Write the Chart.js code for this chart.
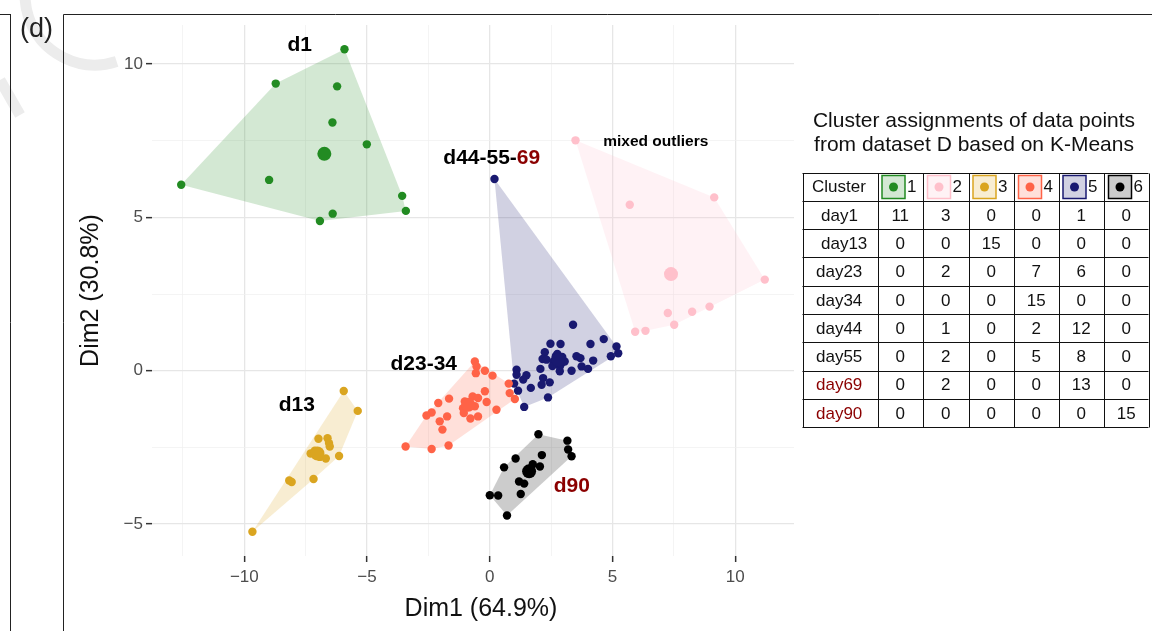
<!DOCTYPE html>
<html>
<head>
<meta charset="utf-8">
<script src="https://cdn.jsdelivr.net/npm/chart.js@4.4.1/dist/chart.umd.min.js"></script>
<style>
  html, body { margin: 0; padding: 0; background: #ffffff; overflow: hidden; }
  #wrap { position: relative; width: 1152px; height: 631px; }
</style>
</head>
<body>
<div id="wrap"><canvas id="pca" width="1152" height="631"></canvas></div>
<script>
// PCA scores (Dim1, Dim2) of the samples, grouped by K-Means cluster
const cluster1 = [[-12.57,6.06],[-8.72,9.36],[-5.92,10.48],[-6.22,9.27],[-6.41,8.09],[-5.01,7.38],
  [-8.99,6.22],[-3.57,5.70],[-3.42,5.21],[-6.40,5.12],[-6.92,4.88]];
const cluster2 = [[3.49,7.51],[5.70,5.41],[9.14,5.65],[11.20,2.97],[8.95,2.09],[8.24,1.92],
  [7.25,1.88],[7.51,1.50],[6.34,1.30],[5.92,1.27]];
const cluster3 = [[-5.95,-0.66],[-5.38,-1.31],[-6.98,-2.22],[-6.61,-2.20],[-6.55,-2.36],[-6.52,-2.47],
  [-7.30,-2.70],[-7.13,-2.61],[-6.92,-2.81],[-6.68,-2.86],[-6.14,-2.78],[-7.18,-3.53],[-8.17,-3.58],
  [-8.07,-3.63],[-9.67,-5.25]];
const cluster4 = [[-0.61,0.30],[-0.54,0.14],[-0.57,-0.08],[-0.20,0.00],[0.11,-0.16],[0.77,-0.42],
  [0.81,-0.73],[1.02,-0.92],[-0.20,-0.67],[-1.66,-0.91],[-2.10,-1.05],[-0.70,-0.84],[-0.48,-0.89],
  [-1.02,-1.00],[-0.13,-1.02],[-1.09,-1.22],[-0.61,-1.16],[0.27,-1.27],[-1.06,-1.38],[-0.79,-1.56],
  [-0.48,-1.49],[-2.37,-1.36],[-2.58,-1.46],[-1.74,-1.49],[-2.04,-1.65],[-1.93,-1.92],[-3.43,-2.47],
  [-2.37,-2.55],[-1.68,-2.44]];
const cluster5 = [[3.39,1.50],[2.47,0.88],[2.88,0.87],[2.24,0.60],[2.15,0.38],[2.31,0.36],[2.69,0.47],
  [2.85,0.14],[2.85,-0.02],[3.33,0.00],[3.53,0.47],[3.69,0.41],[4.10,0.87],[4.64,1.03],[4.21,0.33],
  [3.74,0.14],[4.00,0.06],[4.93,0.47],[5.16,0.79],[5.23,0.57],[2.06,0.06],[1.09,0.03],[1.09,-0.13],
  [1.49,-0.15],[1.36,-0.29],[0.99,-0.42],[1.15,-0.65],[1.67,-0.56],[2.17,-0.24],[2.11,-0.46],
  [2.44,-0.38],[2.37,-0.87],[1.40,-1.18],[0.19,6.25],[2.60,0.30],[2.95,0.45],[2.75,0.55],
  [2.90,0.22],[3.05,0.30],[2.55,0.15]];
const cluster6 = [[1.98,-2.07],[3.16,-2.28],[3.19,-2.57],[3.33,-2.79],[1.05,-2.86],[2.12,-2.75],
  [0.58,-3.15],[2.04,-3.12],[1.19,-3.61],[1.40,-3.68],[1.26,-4.02],[0.00,-4.06],[0.34,-4.07],
  [0.70,-4.72],[1.75,-3.05]];

// cluster centres
const centers = [[-6.74,7.07],[7.38,3.15],[-7.02,-2.70],[-0.88,-1.11],[2.78,0.36],[1.60,-3.28]];

const clusters = [cluster1, cluster2, cluster3, cluster4, cluster5, cluster6];
const clusterNames = ['1', '2', '3', '4', '5', '6'];
const clusterColors = ['#228B22', '#FFC0CB', '#DAA520', '#FF6347', '#191970', '#000000'];

// axis ticks (every 2.5; only the multiples of 5 carry a label)
const xTicks = [-12.5, -10, -7.5, -5, -2.5, 0, 2.5, 5, 7.5, 10];
const yTicks = [-5, -2.5, 0, 2.5, 5, 7.5, 10];
const xTitle = 'Dim1 (64.9%)';
const yTitle = 'Dim2 (30.8%)';

// group labels placed in data coordinates
const groupLabels = [
  { parts: [['d1', '#000']], at: [-7.74, 10.62], size: 21 },
  { parts: [['d44-55-', '#000'], ['69', '#8B0000']], at: [0.08, 6.94], size: 21 },
  { parts: [['mixed outliers', '#000']], at: [6.76, 7.46], size: 15.5 },
  { parts: [['d23-34', '#000']], at: [-2.69, 0.20], size: 21 },
  { parts: [['d13', '#000']], at: [-7.86, -1.11], size: 21 },
  { parts: [['d90', '#8B0000']], at: [3.34, -3.78], size: 21 }
];

// cluster membership counts per sampling day
const tableTitle = ['Cluster assignments of data points', 'from dataset D based on K-Means'];
const days = ['day1', 'day13', 'day23', 'day34', 'day44', 'day55', 'day69', 'day90'];
const dayIndent = [1, 1, 0, 0, 0, 0, 0, 0];
const highlightedDays = ['day69', 'day90'];
const counts = [
  [11, 3, 0, 0, 1, 0],
  [0, 0, 15, 0, 0, 0],
  [0, 2, 0, 7, 6, 0],
  [0, 0, 0, 15, 0, 0],
  [0, 1, 0, 2, 12, 0],
  [0, 2, 0, 5, 8, 0],
  [0, 2, 0, 0, 13, 0],
  [0, 0, 0, 0, 0, 15]
];

const SANS = '"Liberation Sans", Arial, Helvetica, sans-serif';
const DARK_RED = '#8B0000';

function hexToRgba(hex, a) {
  const n = parseInt(hex.slice(1), 16);
  return `rgba(${(n >> 16) & 255},${(n >> 8) & 255},${n & 255},${a})`;
}
function tint(hex, a) {
  // colour blended onto white
  const n = parseInt(hex.slice(1), 16);
  const mix = c => Math.round(255 * (1 - a) + c * a);
  return `rgb(${mix((n >> 16) & 255)},${mix((n >> 8) & 255)},${mix(n & 255)})`;
}

// convex hull (monotone chain)
function convexHull(points) {
  const p = points.map(([x, y]) => ({ x, y })).sort((a, b) => a.x - b.x || a.y - b.y);
  const cross = (o, a, b) => (a.x - o.x) * (b.y - o.y) - (a.y - o.y) * (b.x - o.x);
  const lower = [];
  for (const q of p) {
    while (lower.length >= 2 && cross(lower[lower.length - 2], lower[lower.length - 1], q) <= 0) lower.pop();
    lower.push(q);
  }
  const upper = [];
  for (let i = p.length - 1; i >= 0; i--) {
    const q = p[i];
    while (upper.length >= 2 && cross(upper[upper.length - 2], upper[upper.length - 1], q) <= 0) upper.pop();
    upper.push(q);
  }
  upper.pop(); lower.pop();
  return lower.concat(upper);
}
const hulls = clusters.map(convexHull);

const isMajor = v => Math.abs(v % 5) < 1e-9;
const fmt = v => (v < 0 ? '\u2212' + Math.abs(v) : String(v));

// shaded cluster hulls under the points
const hullPlugin = {
  id: 'hulls',
  beforeDatasetsDraw(chart) {
    const { ctx, chartArea: a, scales: { x, y } } = chart;
    ctx.save();
    ctx.beginPath(); ctx.rect(a.left, a.top, a.right - a.left, a.bottom - a.top); ctx.clip();
    hulls.forEach((h, i) => {
      ctx.beginPath();
      h.forEach((p, k) => {
        const px = x.getPixelForValue(p.x), py = y.getPixelForValue(p.y);
        k ? ctx.lineTo(px, py) : ctx.moveTo(px, py);
      });
      ctx.closePath();
      ctx.fillStyle = hexToRgba(clusterColors[i], 0.2);
      ctx.fill();
    });
    ctx.restore();
  }
};

// group names next to the clusters, and the Dim1 axis title
const labelPlugin = {
  id: 'groupLabels',
  afterDatasetsDraw(chart) {
    const { ctx, scales: { x, y } } = chart;
    ctx.save();
    ctx.textBaseline = 'middle';
    groupLabels.forEach(l => {
      ctx.font = `bold ${l.size}px ${SANS}`;
      const total = l.parts.reduce((s, [t]) => s + ctx.measureText(t).width, 0);
      let cx = x.getPixelForValue(l.at[0]) - total / 2;
      const cy = y.getPixelForValue(l.at[1]);
      ctx.textAlign = 'left';
      l.parts.forEach(([t, c]) => {
        ctx.fillStyle = c;
        ctx.fillText(t, cx, cy);
        cx += ctx.measureText(t).width;
      });
    });
    ctx.font = `25px ${SANS}`;
    ctx.fillStyle = '#111';
    ctx.textAlign = 'center';
    ctx.fillText(xTitle, (x.left + x.right) / 2 + 8, 609);
    ctx.restore();
  }
};

// figure frame, panel tag and the cluster table
const framePlugin = {
  id: 'frame',
  beforeDraw(chart) {
    const { ctx, width, height } = chart;
    ctx.save();
    ctx.fillStyle = '#fff';
    ctx.fillRect(0, 0, width, height);
    // faint mark in the corner
    ctx.strokeStyle = '#ececec';
    ctx.lineWidth = 11;
    ctx.beginPath();
    ctx.arc(95, -5, 70, Math.PI * 0.4, Math.PI * 1.0);
    ctx.stroke();
    ctx.beginPath();
    ctx.moveTo(0, 80); ctx.lineTo(20, 115);
    ctx.stroke();
    ctx.strokeStyle = '#222';
    ctx.lineWidth = 1;
    ctx.beginPath();
    ctx.moveTo(0, 14.5); ctx.lineTo(11, 14.5);
    ctx.moveTo(10.5, 14); ctx.lineTo(10.5, height);
    ctx.moveTo(63.5, height); ctx.lineTo(63.5, 14.5); ctx.lineTo(width, 14.5);
    ctx.stroke();
    ctx.fillStyle = '#222';
    ctx.font = `27px ${SANS}`;
    ctx.textBaseline = 'middle';
    ctx.textAlign = 'left';
    ctx.fillText('(d)', 20, 30);
    ctx.restore();
  },
  afterDraw(chart) {
    const { ctx } = chart;
    ctx.save();
    ctx.fillStyle = '#111';
    ctx.textAlign = 'center';
    ctx.textBaseline = 'middle';
    ctx.font = `21px ${SANS}`;
    ctx.fillText(tableTitle[0], 974, 121);
    ctx.fillText(tableTitle[1], 974, 145);

    const colX = [802.5, 877.5, 923, 968.5, 1014, 1058.5, 1104, 1148.5];
    const top = 172.5, rowH = 28.3;
    const rowY = i => top + i * rowH;

    // header row
    ctx.font = `17px ${SANS}`;
    ctx.textAlign = 'left';
    ctx.fillStyle = '#111';
    ctx.fillText('Cluster', 812, rowY(0) + rowH / 2 + 1);
    clusterNames.forEach((name, i) => {
      const bx = colX[i + 1] + 4.5, by = rowY(0) + 3, bw = 23, bh = 23;
      ctx.fillStyle = tint(clusterColors[i], 0.2);
      ctx.fillRect(bx, by, bw, bh);
      ctx.strokeStyle = clusterColors[i];
      ctx.lineWidth = 1.5;
      ctx.strokeRect(bx, by, bw, bh);
      ctx.beginPath();
      ctx.arc(bx + bw / 2, by + bh / 2, 4.5, 0, Math.PI * 2);
      ctx.fillStyle = clusterColors[i];
      ctx.fill();
      ctx.fillStyle = '#111';
      ctx.fillText(name, bx + bw + 2, rowY(0) + rowH / 2 + 1);
    });

    // body rows
    days.forEach((d, r) => {
      const cy = rowY(r + 1) + rowH / 2 + 1;
      ctx.textAlign = 'left';
      ctx.fillStyle = highlightedDays.includes(d) ? DARK_RED : '#111';
      ctx.fillText(d, 816 + dayIndent[r] * 5, cy);
      ctx.textAlign = 'center';
      ctx.fillStyle = '#111';
      counts[r].forEach((v, c) => {
        ctx.fillText(String(v), (colX[c + 1] + colX[c + 2]) / 2, cy);
      });
    });

    // grid lines
    ctx.strokeStyle = '#111';
    ctx.lineWidth = 1;
    ctx.beginPath();
    for (let i = 0; i <= days.length + 1; i++) {
      const yy = Math.round(rowY(i)) + 0.5;
      ctx.moveTo(colX[0], yy); ctx.lineTo(colX[colX.length - 1], yy);
    }
    colX.forEach(cx => {
      const xx = Math.round(cx) + 0.5;
      ctx.moveTo(xx, Math.round(rowY(0)) + 0.5);
      ctx.lineTo(xx, Math.round(rowY(days.length + 1)) + 0.5);
    });
    ctx.stroke();
    ctx.restore();
  }
};

const pointSets = clusters.map((pts, i) => ({
  label: 'cluster ' + clusterNames[i],
  data: pts.map(([x, y]) => ({ x, y })),
  backgroundColor: clusterColors[i],
  borderWidth: 0,
  pointRadius: 4.2,
  pointHoverRadius: 4.2
}));
const centerSets = centers.map(([x, y], i) => ({
  label: 'centre ' + clusterNames[i],
  data: [{ x, y }],
  backgroundColor: clusterColors[i],
  borderWidth: 0,
  pointRadius: 7,
  pointHoverRadius: 7
}));

const gridColor = ctx => (isMajor(ctx.tick.value) ? '#e6e6e6' : '#efefef');
const gridWidth = ctx => (isMajor(ctx.tick.value) ? 1.3 : 0.7);
const tickColor = ctx => (isMajor(ctx.tick.value) ? '#333' : 'rgba(0,0,0,0)');

new Chart(document.getElementById('pca'), {
  type: 'scatter',
  data: { datasets: centerSets.concat(pointSets) },
  options: {
    responsive: false,
    animation: false,
    devicePixelRatio: 1,
    layout: { padding: { left: 66, right: 358, top: 25, bottom: 0 } },
    plugins: { legend: { display: false }, tooltip: { enabled: false } },
    scales: {
      x: {
        type: 'linear',
        min: -13.76, max: 12.39,
        afterBuildTicks: s => { s.ticks = xTicks.map(v => ({ value: v })); },
        afterFit: s => { s.height = 75; },
        border: { display: false },
        grid: { color: gridColor, lineWidth: gridWidth, tickColor: tickColor, tickLength: 6, tickWidth: 1.5 },
        ticks: {
          autoSkip: false, maxRotation: 0, padding: 5, color: '#4d4d4d',
          font: { family: SANS, size: 17 },
          callback: v => (isMajor(v) ? fmt(v) : '')
        },
        title: { display: false }
      },
      y: {
        type: 'linear',
        min: -6.04, max: 11.27,
        afterBuildTicks: s => { s.ticks = yTicks.map(v => ({ value: v })); },
        afterFit: s => { s.width = 86; },
        border: { display: false },
        grid: { color: gridColor, lineWidth: gridWidth, tickColor: tickColor, tickLength: 6, tickWidth: 1.5 },
        ticks: {
          autoSkip: false, padding: 3, color: '#4d4d4d',
          font: { family: SANS, size: 17 },
          callback: v => (isMajor(v) ? fmt(v) : '')
        },
        title: { display: true, text: yTitle, color: '#111', font: { family: SANS, size: 25 }, padding: { top: 10, bottom: 0 } }
      }
    }
  },
  plugins: [framePlugin, hullPlugin, labelPlugin]
});
</script>
</body>
</html>
